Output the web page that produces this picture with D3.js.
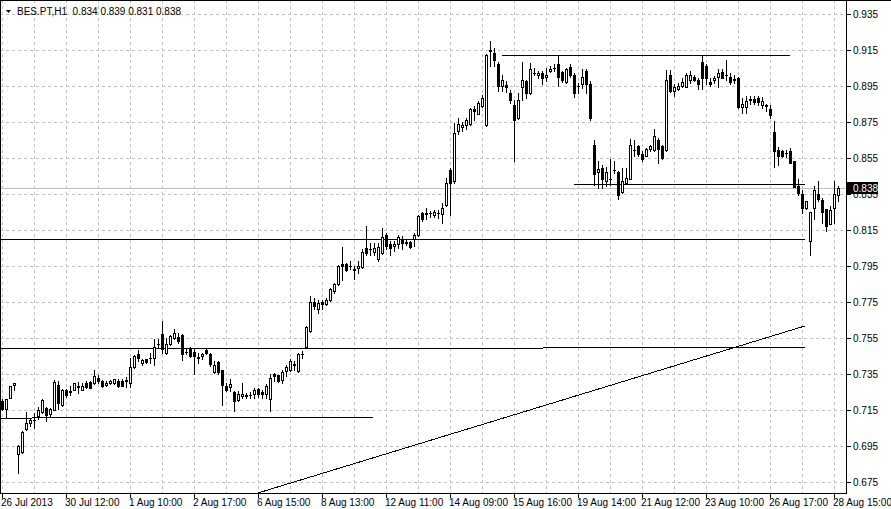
<!DOCTYPE html>
<html>
<head>
<meta charset="utf-8">
<script src="https://cdn.jsdelivr.net/npm/d3@7"></script>
<style>
  body { margin: 0; background: #fff; }
  svg { display: block; font-family: Tahoma, "Liberation Sans", Arial, sans-serif; font-size: 10px; }
</style>
</head>
<body>
<svg id="chart" width="891" height="509"></svg>
<script>
const symbol = 'BES.PT,H1';

// H1 bars, oldest first
const opens = [
  0.7200, 0.7154, 0.7215, 0.7287, 0.6904, 0.6915, 0.7044, 0.7074, 0.7090, 0.7113,
  0.7137, 0.7159, 0.7126, 0.7150, 0.7287, 0.7174, 0.7261, 0.7246, 0.7261, 0.7276,
  0.7261, 0.7298, 0.7302, 0.7298, 0.7324, 0.7306, 0.7287, 0.7298, 0.7298, 0.7311,
  0.7311, 0.7311, 0.7298, 0.7387, 0.7459, 0.7409, 0.7428, 0.7435, 0.7437, 0.7513,
  0.7567, 0.7465, 0.7515, 0.7548, 0.7552, 0.7563, 0.7470, 0.7487, 0.7469, 0.7437,
  0.7450, 0.7478, 0.7459, 0.7360, 0.7413, 0.7369, 0.7280, 0.7274, 0.7248, 0.7204,
  0.7224, 0.7226, 0.7228, 0.7237, 0.7265, 0.7248, 0.7237, 0.7206, 0.7348, 0.7339,
  0.7313, 0.7363, 0.7372, 0.7400, 0.7363, 0.7456, 0.7496, 0.7585, 0.7748, 0.7711,
  0.7748, 0.7737, 0.7757, 0.7807, 0.7848, 0.7959, 0.7959, 0.7946, 0.7931, 0.7937,
  0.7943, 0.8048, 0.8039, 0.8024, 0.7987, 0.8020, 0.8122, 0.8072, 0.8057, 0.8072,
  0.8098, 0.8076, 0.8081, 0.8100, 0.8118, 0.8239, 0.8237, 0.8242, 0.8233, 0.8239,
  0.8237, 0.8285, 0.8483, 0.8418, 0.8696, 0.8719, 0.8730, 0.8737, 0.8822, 0.8794,
  0.8835, 0.8733, 0.9144, 0.9131, 0.9072, 0.8946, 0.8952, 0.8909, 0.8839, 0.8770,
  0.8941, 0.8974, 0.8909, 0.9019, 0.9007, 0.9020, 0.8996, 0.9033, 0.9047, 0.9072,
  0.9024, 0.8970, 0.9052, 0.9011, 0.8946, 0.8959, 0.9030, 0.8959, 0.8622, 0.8470,
  0.8493, 0.8419, 0.8432, 0.8480, 0.8470, 0.8359, 0.8409, 0.8433, 0.8590, 0.8613,
  0.8572, 0.8561, 0.8598, 0.8591, 0.8650, 0.8613, 0.8591, 0.9011, 0.8919, 0.8931,
  0.8946, 0.8943, 0.8983, 0.8998, 0.8983, 0.9080, 0.9057, 0.8970, 0.8980, 0.8998,
  0.9024, 0.9009, 0.8998, 0.8983, 0.8993, 0.8831, 0.8831, 0.8872, 0.8876, 0.8881,
  0.8839, 0.8839, 0.8820, 0.8691, 0.8594, 0.8585, 0.8576, 0.8585, 0.8533, 0.8391,
  0.8350, 0.8270, 0.8085, 0.8270, 0.8350, 0.8313, 0.8265, 0.8183, 0.8270, 0.8340
];
const highs = [
  0.7210, 0.7210, 0.7283, 0.7300, 0.6955, 0.7030, 0.7137, 0.7098, 0.7131, 0.7165,
  0.7206, 0.7165, 0.7160, 0.7313, 0.7307, 0.7265, 0.7265, 0.7280, 0.7300, 0.7302,
  0.7298, 0.7307, 0.7311, 0.7367, 0.7339, 0.7313, 0.7307, 0.7315, 0.7320, 0.7320,
  0.7317, 0.7331, 0.7437, 0.7454, 0.7483, 0.7433, 0.7433, 0.7465, 0.7539, 0.7539,
  0.7641, 0.7548, 0.7565, 0.7598, 0.7576, 0.7567, 0.7493, 0.7496, 0.7487, 0.7465,
  0.7465, 0.7489, 0.7465, 0.7418, 0.7418, 0.7372, 0.7298, 0.7317, 0.7252, 0.7252,
  0.7298, 0.7243, 0.7248, 0.7270, 0.7270, 0.7256, 0.7289, 0.7348, 0.7354, 0.7344,
  0.7372, 0.7400, 0.7428, 0.7418, 0.7465, 0.7474, 0.7612, 0.7780, 0.7767, 0.7761,
  0.7761, 0.7770, 0.7826, 0.7852, 0.7954, 0.8052, 0.7963, 0.7974, 0.7946, 0.7974,
  0.8039, 0.8172, 0.8076, 0.8076, 0.8076, 0.8159, 0.8131, 0.8085, 0.8085, 0.8118,
  0.8113, 0.8090, 0.8085, 0.8131, 0.8230, 0.8246, 0.8270, 0.8252, 0.8256, 0.8261,
  0.8298, 0.8437, 0.8490, 0.8743, 0.8770, 0.8748, 0.8770, 0.8826, 0.8835, 0.8863,
  0.8896, 0.9126, 0.9200, 0.9156, 0.9081, 0.9011, 0.8974, 0.8924, 0.8867, 0.8909,
  0.9081, 0.8983, 0.9076, 0.9048, 0.9033, 0.9030, 0.9048, 0.9057, 0.9067, 0.9118,
  0.9030, 0.9050, 0.9070, 0.9020, 0.8965, 0.9039, 0.9039, 0.8974, 0.8650, 0.8530,
  0.8506, 0.8496, 0.8539, 0.8533, 0.8474, 0.8493, 0.8489, 0.8652, 0.8650, 0.8617,
  0.8585, 0.8604, 0.8622, 0.8711, 0.8659, 0.8617, 0.9035, 0.9035, 0.8956, 0.8965,
  0.8993, 0.9020, 0.9030, 0.9011, 0.8993, 0.9117, 0.9067, 0.8993, 0.9002, 0.9039,
  0.9039, 0.9091, 0.9020, 0.9011, 0.8997, 0.8881, 0.8891, 0.8891, 0.8891, 0.8891,
  0.8887, 0.8850, 0.8839, 0.8752, 0.8607, 0.8594, 0.8594, 0.8604, 0.8533, 0.8428,
  0.8372, 0.8311, 0.8250, 0.8391, 0.8422, 0.8326, 0.8265, 0.8280, 0.8422, 0.8390
];
const lows = [
  0.7150, 0.7104, 0.7212, 0.7261, 0.6798, 0.6910, 0.7035, 0.7061, 0.7048, 0.7100,
  0.7128, 0.7085, 0.7110, 0.7145, 0.7154, 0.7170, 0.7222, 0.7233, 0.7258, 0.7243,
  0.7257, 0.7270, 0.7267, 0.7289, 0.7298, 0.7274, 0.7280, 0.7294, 0.7294, 0.7274,
  0.7278, 0.7276, 0.7274, 0.7383, 0.7419, 0.7400, 0.7409, 0.7406, 0.7400, 0.7493,
  0.7465, 0.7456, 0.7510, 0.7539, 0.7520, 0.7424, 0.7459, 0.7441, 0.7348, 0.7409,
  0.7430, 0.7456, 0.7390, 0.7355, 0.7348, 0.7174, 0.7252, 0.7252, 0.7144, 0.7196,
  0.7215, 0.7215, 0.7215, 0.7215, 0.7219, 0.7215, 0.7215, 0.7144, 0.7307, 0.7304,
  0.7298, 0.7335, 0.7363, 0.7372, 0.7359, 0.7437, 0.7493, 0.7580, 0.7706, 0.7687,
  0.7711, 0.7733, 0.7752, 0.7800, 0.7844, 0.7872, 0.7918, 0.7928, 0.7876, 0.7909,
  0.7937, 0.8011, 0.8011, 0.8006, 0.7974, 0.8015, 0.8044, 0.8011, 0.8030, 0.8048,
  0.8039, 0.8065, 0.8048, 0.8057, 0.8113, 0.8196, 0.8206, 0.8219, 0.8219, 0.8215,
  0.8187, 0.8280, 0.8233, 0.8409, 0.8683, 0.8696, 0.8706, 0.8733, 0.8761, 0.8789,
  0.8830, 0.8726, 0.9057, 0.9057, 0.8922, 0.8922, 0.8915, 0.8854, 0.8533, 0.8765,
  0.8869, 0.8878, 0.8904, 0.9007, 0.8993, 0.8959, 0.8974, 0.9026, 0.9030, 0.8946,
  0.8970, 0.8965, 0.8996, 0.8887, 0.8906, 0.8937, 0.8909, 0.8756, 0.8400, 0.8381,
  0.8378, 0.8391, 0.8400, 0.8465, 0.8317, 0.8355, 0.8405, 0.8428, 0.8561, 0.8557,
  0.8533, 0.8557, 0.8585, 0.8587, 0.8517, 0.8543, 0.8585, 0.8913, 0.8891, 0.8924,
  0.8943, 0.8939, 0.8965, 0.8974, 0.8931, 0.8931, 0.8959, 0.8946, 0.8965, 0.8943,
  0.8989, 0.8983, 0.8961, 0.8965, 0.8826, 0.8798, 0.8798, 0.8850, 0.8850, 0.8844,
  0.8826, 0.8807, 0.8770, 0.8498, 0.8507, 0.8554, 0.8554, 0.8517, 0.8387, 0.8344,
  0.8243, 0.8265, 0.8011, 0.8206, 0.8307, 0.8187, 0.8141, 0.8178, 0.8187, 0.8310
];
const closes = [
  0.7155, 0.7206, 0.7280, 0.7298, 0.6950, 0.7026, 0.7076, 0.7089, 0.7093, 0.7150,
  0.7202, 0.7122, 0.7154, 0.7302, 0.7187, 0.7261, 0.7228, 0.7252, 0.7298, 0.7278,
  0.7280, 0.7276, 0.7270, 0.7335, 0.7306, 0.7280, 0.7298, 0.7311, 0.7317, 0.7283,
  0.7283, 0.7313, 0.7387, 0.7450, 0.7437, 0.7426, 0.7413, 0.7437, 0.7498, 0.7516,
  0.7487, 0.7515, 0.7561, 0.7576, 0.7533, 0.7459, 0.7468, 0.7450, 0.7446, 0.7439,
  0.7459, 0.7465, 0.7404, 0.7400, 0.7359, 0.7285, 0.7257, 0.7289, 0.7200, 0.7237,
  0.7237, 0.7228, 0.7229, 0.7261, 0.7237, 0.7237, 0.7280, 0.7326, 0.7335, 0.7311,
  0.7357, 0.7385, 0.7419, 0.7402, 0.7459, 0.7457, 0.7609, 0.7748, 0.7724, 0.7739,
  0.7737, 0.7761, 0.7822, 0.7848, 0.7950, 0.7946, 0.7924, 0.7948, 0.7924, 0.7950,
  0.8026, 0.8020, 0.8041, 0.8048, 0.8052, 0.8109, 0.8057, 0.8048, 0.8070, 0.8107,
  0.8076, 0.8078, 0.8052, 0.8118, 0.8224, 0.8209, 0.8239, 0.8243, 0.8246, 0.8240,
  0.8270, 0.8409, 0.8409, 0.8687, 0.8737, 0.8733, 0.8757, 0.8822, 0.8807, 0.8854,
  0.8881, 0.9122, 0.9146, 0.9089, 0.8946, 0.8983, 0.8943, 0.8869, 0.8757, 0.8872,
  0.8980, 0.8909, 0.9044, 0.9020, 0.9020, 0.8993, 0.9011, 0.9044, 0.9048, 0.8998,
  0.8978, 0.9044, 0.9006, 0.8906, 0.8947, 0.8996, 0.8959, 0.8767, 0.8456, 0.8487,
  0.8428, 0.8470, 0.8431, 0.8482, 0.8339, 0.8422, 0.8437, 0.8620, 0.8592, 0.8567,
  0.8539, 0.8598, 0.8613, 0.8669, 0.8598, 0.8548, 0.8980, 0.8919, 0.8943, 0.8950,
  0.8972, 0.9011, 0.9011, 0.8983, 0.8959, 0.8993, 0.8993, 0.8959, 0.8993, 0.9020,
  0.8993, 0.9010, 0.8969, 0.8984, 0.8831, 0.8850, 0.8863, 0.8873, 0.8857, 0.8857,
  0.8863, 0.8838, 0.8785, 0.8585, 0.8557, 0.8557, 0.8577, 0.8520, 0.8387, 0.8354,
  0.8270, 0.8307, 0.8246, 0.8369, 0.8317, 0.8246, 0.8172, 0.8257, 0.8350, 0.8380
];

const priceTicks = [0.935, 0.915, 0.895, 0.875, 0.855, 0.835, 0.815, 0.795, 0.775, 0.755, 0.735, 0.715, 0.695, 0.675];
const timeLabels = ['26 Jul 2013', '30 Jul 12:00', '1 Aug 10:00', '2 Aug 17:00', '6 Aug 15:00', '8 Aug 13:00',
  '12 Aug 11:00', '14 Aug 09:00', '15 Aug 16:00', '19 Aug 14:00', '21 Aug 12:00', '23 Aug 10:00',
  '26 Aug 17:00', '28 Aug 15:00'];
const barsPerLabel = 16;
const barsPerGrid = 8;

// objects drawn on the chart: [bar, price] -> [bar, price]
const chartLines = [
  [[-0.5, 0.8098], [200.75, 0.8098]],
  [[143, 0.8404], [200.75, 0.8404]],
  [[125, 0.9117], [197, 0.9117]],
  [[-0.5, 0.7489], [200.75, 0.7497]],
  [[-0.5, 0.7105], [92.75, 0.7111]],
  [[64, 0.6689], [200.75, 0.7617]]
];

const svg = d3.select('#chart'),
    width = 846,
    height = 493;

const n = closes.length;
const bars = d3.range(n).map(i => ({i, o: opens[i], h: highs[i], l: lows[i], c: closes[i]}));

const x = d3.scaleLinear().domain([0, n - 1]).range([2, 2 + 4 * (n - 1)]);
const y = d3.scaleLinear().domain([0.675, 0.935]).range([482, 14]);
const px = v => Math.round(x(v));
const py = v => Math.floor(y(v) + 1e-6);

svg.append('rect').attr('width', 891).attr('height', 509).attr('fill', '#fff');

svg.append('clipPath').attr('id', 'plot')
  .append('rect').attr('width', width).attr('height', height);

const plot = svg.append('g').attr('clip-path', 'url(#plot)');

// grid
plot.append('g').selectAll('line')
  .data(priceTicks)
  .join('line')
    .attr('x1', 0).attr('x2', width)
    .attr('y1', d => py(d) + 0.5).attr('y2', d => py(d) + 0.5)
    .attr('stroke', '#c0c0c0')
    .attr('stroke-dasharray', '3,3');

plot.append('g').selectAll('line')
  .data(d3.range(0, n, barsPerGrid))
  .join('line')
    .attr('x1', d => px(d) + 0.5).attr('x2', d => px(d) + 0.5)
    .attr('y1', 0).attr('y2', height)
    .attr('stroke', '#c0c0c0')
    .attr('stroke-dasharray', '3,3');

// bid line
plot.append('line')
  .attr('x1', 0).attr('x2', width)
  .attr('y1', py(closes[n - 1]) + 0.5).attr('y2', py(closes[n - 1]) + 0.5)
  .attr('stroke', '#c0c0c0');

// drawn objects
plot.append('g').selectAll('line')
  .data(chartLines)
  .join('line')
    .attr('x1', d => x(d[0][0])).attr('y1', d => y(d[0][1]))
    .attr('x2', d => x(d[1][0])).attr('y2', d => y(d[1][1]))
    .attr('stroke', '#000')
    .attr('stroke-width', 1)
    .attr('shape-rendering', 'crispEdges');

// candles
const candle = plot.append('g').selectAll('g')
  .data(bars)
  .join('g');

candle.append('line')
  .attr('x1', d => px(d.i) + 0.5).attr('x2', d => px(d.i) + 0.5)
  .attr('y1', d => py(d.h)).attr('y2', d => py(d.l) + 1)
  .attr('stroke', '#000');

candle.filter(d => py(Math.min(d.o, d.c)) - py(Math.max(d.o, d.c)) > 0)
  .append('rect')
    .attr('x', d => px(d.i) - 0.5)
    .attr('y', d => py(Math.max(d.o, d.c)) + 0.5)
    .attr('width', 2)
    .attr('height', d => py(Math.min(d.o, d.c)) - py(Math.max(d.o, d.c)))
    .attr('fill', d => d.c >= d.o ? '#fff' : '#000')
    .attr('stroke', '#000');

candle.filter(d => py(Math.min(d.o, d.c)) - py(Math.max(d.o, d.c)) <= 0)
  .append('line')
    .attr('x1', d => px(d.i) - 1).attr('x2', d => px(d.i) + 2)
    .attr('y1', d => py(d.c) + 0.5).attr('y2', d => py(d.c) + 0.5)
    .attr('stroke', '#000');

// frame
const frame = svg.append('g').attr('stroke', '#000');
frame.append('line').attr('x1', 0).attr('x2', 891).attr('y1', 0.5).attr('y2', 0.5);
frame.append('line').attr('x1', 0.5).attr('x2', 0.5).attr('y1', 0).attr('y2', height + 1);
frame.append('line').attr('x1', width + 0.5).attr('x2', width + 0.5).attr('y1', 0).attr('y2', height + 1);
frame.append('line').attr('x1', 0).attr('x2', width + 1).attr('y1', height + 0.5).attr('y2', height + 0.5);

// price axis
const yAxis = svg.append('g');
yAxis.selectAll('line')
  .data(priceTicks)
  .join('line')
    .attr('x1', width + 1).attr('x2', width + 5)
    .attr('y1', d => py(d) + 0.5).attr('y2', d => py(d) + 0.5)
    .attr('stroke', '#000');
yAxis.selectAll('text')
  .data(priceTicks)
  .join('text')
    .attr('x', width + 7)
    .attr('y', d => py(d) + 4)
    .attr('fill', '#000')
    .text(d3.format('.3f'));

// time axis
const timeTicks = timeLabels.map((t, k) => ({t, bar: k * barsPerLabel}));
const xAxis = svg.append('g');
xAxis.selectAll('line')
  .data(timeTicks)
  .join('line')
    .attr('x1', d => px(d.bar) + 0.5).attr('x2', d => px(d.bar) + 0.5)
    .attr('y1', height + 1).attr('y2', height + 5)
    .attr('stroke', '#000');
xAxis.selectAll('text')
  .data(timeTicks)
  .join('text')
    .attr('x', d => px(d.bar) - 1)
    .attr('y', height + 13)
    .attr('fill', '#000')
    .text(d => d.t);

// last price marker
const last = py(closes[n - 1]);
svg.append('rect')
  .attr('x', width).attr('y', last - 6)
  .attr('width', 32).attr('height', 12)
  .attr('fill', '#000');
svg.append('text')
  .attr('x', width + 7).attr('y', last + 4)
  .attr('fill', '#fff')
  .text(d3.format('.3f')(closes[n - 1]));

// header
svg.append('path').attr('d', 'M6,10L11,10L8.5,13Z').attr('fill', '#000');
const f3 = d3.format('.3f');
svg.append('text')
  .attr('x', 17).attr('y', 15)
  .attr('fill', '#000')
  .style('white-space', 'pre')
  .text(`${symbol}  ${f3(opens[n - 1])} ${f3(highs[n - 1])} ${f3(lows[n - 1])} ${f3(closes[n - 1])}`);
</script>
</body>
</html>
